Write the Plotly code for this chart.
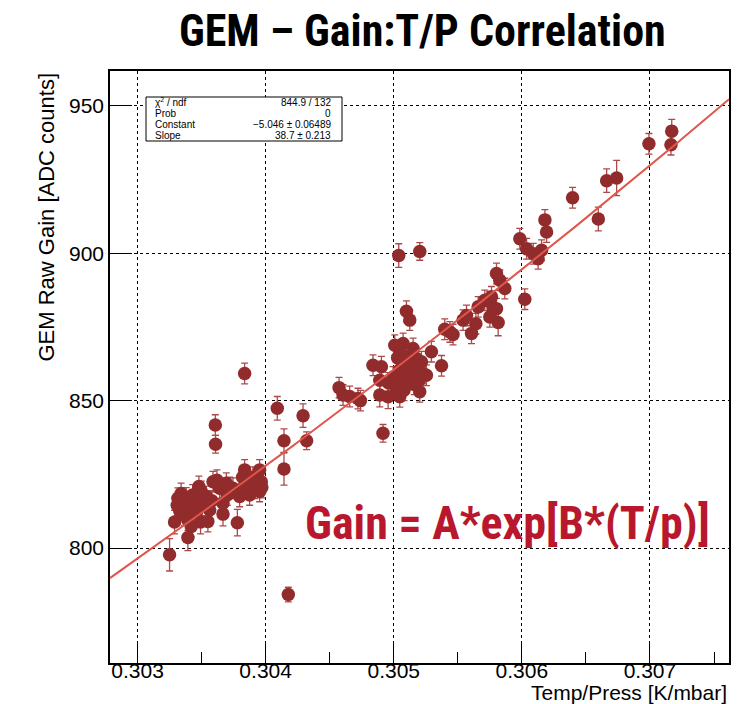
import numpy as np
import plotly.graph_objects as go

# ---------------- data ----------------
temp_press = [
    0.303250, 0.303393, 0.303289, 0.303492, 0.303779, 0.303667, 0.303667, 0.303563,
    0.303479, 0.303589, 0.303641, 0.303693, 0.303745, 0.303836, 0.303836, 0.303914,
    0.303953, 0.303966, 0.303953, 0.303875, 0.303797, 0.303315, 0.303354, 0.303406,
    0.303328, 0.303367, 0.303445, 0.303458, 0.303393, 0.303537, 0.303498, 0.303549,
    0.303419, 0.303340, 0.303380, 0.303430, 0.303900, 0.303940, 0.303880, 0.303720,
    0.303620, 0.303970, 0.303360, 0.303310, 0.303500, 0.303580, 0.303700, 0.303820,
    0.303607, 0.303609, 0.303836, 0.304177,
    0.304091, 0.304143, 0.304143, 0.304292, 0.304320,
    0.304656, 0.304573, 0.304604, 0.304721, 0.304740, 0.304838, 0.304904, 0.304891,
    0.304891, 0.304956, 0.305047, 0.304916, 0.305008, 0.305073, 0.305151, 0.305047,
    0.305099, 0.305125, 0.305294, 0.305373, 0.305438, 0.305177, 0.305125, 0.305060,
    0.305021, 0.305203, 0.305255, 0.305216, 0.305177, 0.305099, 0.305047, 0.304995,
    0.305151, 0.305229, 0.305100, 0.305030, 0.305160, 0.305080, 0.305130, 0.305060,
    0.305200, 0.304960, 0.305039, 0.305203,
    0.305398, 0.305463, 0.305541, 0.305607, 0.305641, 0.305659, 0.305750, 0.305802,
    0.305815, 0.305750,
    0.305711, 0.305763, 0.305802, 0.305828, 0.305867, 0.305776, 0.305568, 0.306023,
    0.305984, 0.306037, 0.306089, 0.306127, 0.306154, 0.306193, 0.306180,
    0.306597, 0.306396, 0.306662, 0.306740, 0.306992, 0.307164, 0.307170,
]
raw_gain = [
    797.7, 803.6, 808.8, 808.8, 808.6, 811.5, 815.2, 812.9,
    820.9, 822.5, 820.3, 822.0, 820.3, 826.5, 821.4, 820.3,
    826.5, 822.5, 819.2, 818.0, 817.5, 816.9, 815.2, 813.5,
    812.9, 811.2, 815.8, 811.8, 809.5, 817.5, 819.2, 809.0,
    807.3, 818.5, 817.0, 818.0, 824.0, 823.5, 822.0, 820.5,
    823.0, 820.5, 814.0, 814.5, 814.5, 816.0, 818.0, 824.0,
    841.7, 835.2, 859.2, 784.2,
    847.4, 836.4, 826.8, 844.9, 836.4,
    851.4, 854.4, 851.9, 850.7, 850.0, 862.0, 861.5, 856.9,
    851.9, 851.3, 851.3, 838.9, 868.8, 869.4, 867.7, 866.6,
    880.3, 877.3, 866.6, 861.8, 873.3, 860.9, 857.5, 855.8,
    854.1, 853.0, 858.6, 863.2, 864.3, 858.6, 860.5, 858.0,
    863.2, 859.2, 862.5, 864.5, 855.5, 853.5, 865.5, 857.0,
    857.0, 856.0, 899.2, 900.6,
    874.2, 872.4, 877.3, 872.8, 876.1, 881.8, 878.4, 881.2,
    876.5, 883.5,
    884.0, 885.2, 893.1, 890.8, 888.0, 881.2, 878.9, 884.4,
    904.9, 901.5, 899.8, 898.1, 901.0, 907.2, 911.3,
    911.6, 918.8, 924.6, 925.5, 937.1, 936.8, 941.4,
]
gain_err = [
    5.5, 4.5, 4.0, 4.0, 4.5, 4.0, 3.5, 3.5,
    3.5, 3.5, 3.5, 3.5, 3.5, 3.5, 3.5, 3.5,
    3.5, 3.5, 3.5, 3.5, 3.5, 3.5, 3.5, 3.5,
    3.5, 3.5, 3.5, 3.5, 3.5, 3.5, 3.5, 3.5,
    3.5, 3.5, 3.5, 3.5, 3.5, 3.5, 3.5, 3.5,
    3.5, 3.5, 3.5, 3.5, 3.5, 3.5, 3.5, 3.5,
    3.5, 3.0, 3.5, 2.5,
    4.0, 4.0, 5.5, 4.0, 3.0,
    3.5, 3.5, 3.5, 3.5, 3.5, 3.5, 3.5, 4.0,
    4.0, 4.0, 3.5, 3.0, 3.5, 3.5, 3.5, 3.5,
    3.5, 3.5, 3.5, 3.5, 3.5, 3.5, 3.5, 3.5,
    3.5, 3.5, 3.5, 3.5, 3.5, 3.5, 3.5, 3.5,
    3.5, 3.5, 3.5, 3.5, 3.5, 3.5, 3.5, 3.5,
    3.5, 3.5, 4.0, 3.0,
    3.5, 3.5, 3.5, 3.5, 3.5, 3.5, 3.5, 3.5,
    4.5, 3.5,
    3.5, 3.5, 3.5, 3.5, 3.5, 3.5, 3.5, 3.5,
    3.5, 3.5, 3.5, 3.5, 3.5, 3.5, 3.5,
    4.0, 3.5, 4.0, 6.0, 3.5, 3.5, 4.0,
]

# fit result shown in the stats box: Gain = exp(Constant + Slope * T/p)
fit_constant = -5.046
fit_slope = 38.7
stats_labels = ["χ<sup>2</sup> / ndf", "Prob", "Constant", "Slope"]
stats_values = ["844.9 / 132", "0", "−5.046 ± 0.06489", "38.7 ± 0.213"]

x_range = [0.302785, 0.307617]
y_range = [761.0, 961.8]

title_text = "GEM – Gain:T/P Correlation"
formula_text = "Gain = A*exp[B*(T/p)]"
x_title = "Temp/Press [K/mbar]"
y_title = "GEM Raw Gain [ADC counts]"

# ---------------- figure ----------------
W, H = 753, 704
ML, MR, MT, MB = 110, 24, 71, 41
PW, PH = W - ML - MR, H - MT - MB


def px(xp):
    return (xp - ML) / PW


def py(yp):
    return (H - MB - yp) / PH


fit_x = np.linspace(x_range[0], x_range[1], 200)
fit_y = np.exp(fit_constant + fit_slope * fit_x)

fig = go.Figure()
fig.add_trace(go.Scatter(
    x=temp_press, y=raw_gain, mode="markers",
    marker=dict(color="#922c2c", size=13.5, line=dict(width=0)),
    error_y=dict(type="data", array=gain_err, color="#ab4a4a", thickness=1.3, width=3.5),
    hoverinfo="x+y",
))
fig.add_trace(go.Scatter(
    x=fit_x, y=fit_y, mode="lines",
    line=dict(color="#e0564c", width=2),
    hoverinfo="skip",
))

sans = "Liberation Sans, Arial, sans-serif"
tick_font = dict(family=sans, size=21, color="black")
title_font = dict(family=sans, size=22, color="black")
xtitle_font = dict(family=sans, size=21, color="black")
narrow = "Roboto Condensed, Liberation Sans Narrow, DejaVu Sans Condensed, Roboto, sans-serif"

fig.update_layout(
    width=W, height=H,
    margin=dict(l=ML, r=MR, t=MT, b=MB),
    paper_bgcolor="white", plot_bgcolor="white",
    showlegend=False,
    xaxis=dict(
        range=x_range, tickmode="linear", tick0=0.303, dtick=0.001, tickformat=".3f",
        ticks="inside", ticklen=22, tickwidth=1, tickcolor="black",
        minor=dict(tickmode="linear", tick0=0.3025, dtick=0.001, ticks="inside",
                   ticklen=11, tickwidth=1, tickcolor="black", showgrid=False),
        showgrid=True, gridcolor="black", griddash="dot", gridwidth=1,
        showline=True, linecolor="black", linewidth=1.5, mirror=True,
        zeroline=False, tickfont=tick_font, ticklabelstandoff=-12,
    ),
    yaxis=dict(
        range=y_range, tickmode="linear", tick0=800, dtick=50,
        ticks="inside", ticklen=22, tickwidth=1, tickcolor="black",
        showgrid=True, gridcolor="black", griddash="dot", gridwidth=1,
        showline=True, linecolor="black", linewidth=1.5, mirror=True,
        zeroline=False, tickfont=tick_font,
    ),
)

annotations = [
    dict(text=f"<b>{title_text}</b>", xref="paper", yref="paper", x=px(422), y=py(31),
         xanchor="center", yanchor="middle", showarrow=False,
         font=dict(family=narrow, size=44, color="black")),
    dict(text=f"<b>{formula_text}</b>", xref="paper", yref="paper", x=px(507), y=py(523),
         xanchor="center", yanchor="middle", showarrow=False,
         font=dict(family=narrow, size=46, color="#b8172e")),
    dict(text=x_title, xref="paper", yref="paper", x=1, y=py(706), xanchor="right", yanchor="bottom",
         showarrow=False, font=xtitle_font),
    dict(text=y_title, xref="paper", yref="paper", x=px(46), y=1, xanchor="center", yanchor="top",
         textangle=-90, showarrow=False, font=title_font),
]

stats_font = dict(family=sans, size=10, color="black")
row_y = [102.5, 113.5, 124.5, 135.0]
for lab, val, yy in zip(stats_labels, stats_values, row_y):
    annotations.append(dict(text=lab, xref="paper", yref="paper", x=px(153), y=py(yy),
                            xanchor="left", yanchor="middle", showarrow=False, font=stats_font))
    annotations.append(dict(text=val, xref="paper", yref="paper", x=px(333), y=py(yy),
                            xanchor="right", yanchor="middle", showarrow=False, font=stats_font))
fig.update_layout(annotations=annotations)

fig.add_shape(type="rect", xref="paper", yref="paper",
              x0=px(146), x1=px(342), y0=py(141), y1=py(97),
              line=dict(color="black", width=1), fillcolor="white", layer="above")

fig.write_html("out.html")
